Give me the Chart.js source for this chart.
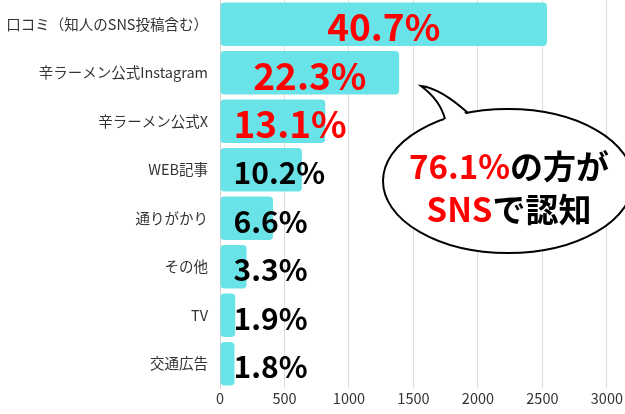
<!DOCTYPE html>
<html>
<head>
<meta charset="utf-8">
<script src="https://cdn.jsdelivr.net/npm/chart.js@4/dist/chart.umd.min.js"></script>
<style>
  html, body { margin: 0; padding: 0; background: #fff; }
  #wrap { width: 625px; height: 414px; position: relative; }
</style>
</head>
<body>
<div id="wrap"><canvas id="c"></canvas></div>
<script>
// ---- data ----
const categories = ['口コミ（知人のSNS投稿含む）', '辛ラーメン公式Instagram', '辛ラーメン公式X', 'WEB記事', '通りがかり', 'その他', 'TV', '交通広告'];
const counts = [2535, 1389, 816, 635, 411, 206, 118, 112];
const percentLabels = ['40.7%', '22.3%', '13.1%', '10.2%', '6.6%', '3.3%', '1.9%', '1.8%'];
const snsCategoryCount = 3; // first three categories are SNS sources
const xTickMin = 0;
const xTickMax = 3000;
const xTickStep = 500;
const bubbleLine1 = ['76.1%', 'の方が'];
const bubbleLine2 = ['SNS', 'で認知'];

const FONT = "'Noto Sans CJK JP', 'Noto Sans', sans-serif";

const valueLabelPlugin = {
  id: 'valueLabels',
  afterDatasetsDraw(chart) {
    const ctx = chart.ctx;
    const meta = chart.getDatasetMeta(0);
    ctx.save();
    ctx.textBaseline = 'middle';
    ctx.textAlign = 'left';
    meta.data.forEach((el, i) => {
      const isSns = i < snsCategoryCount;
      ctx.font = `bold ${isSns ? 37 : 30}px ${FONT}`;
      ctx.fillStyle = isSns ? '#ff0000' : '#000000';
      const txt = percentLabels[i];
      const w = ctx.measureText(txt).width;
      const start = Math.min(el.base, el.x);
      const mid = (el.base + el.x) / 2;
      const left = Math.max(start + 13, mid - w / 2);
      ctx.fillText(txt, left, el.y + 3);
    });
    ctx.restore();
  }
};

const bubblePlugin = {
  id: 'bubble',
  afterDraw(chart) {
    const ctx = chart.ctx;
    const cx = 508, cy = 181, rx = 125, ry = 72;
    ctx.save();
    ctx.lineWidth = 2;
    ctx.strokeStyle = '#000';
    ctx.fillStyle = '#fff';
    ctx.beginPath();
    ctx.ellipse(cx, cy, rx, ry, 0, 0, Math.PI * 2);
    ctx.fill();
    ctx.stroke();
    const A = [445, 119], T = [421, 86], B = [468, 113];
    ctx.beginPath();
    ctx.moveTo(A[0], A[1] + 3);
    ctx.quadraticCurveTo(440, 100, T[0], T[1]);
    ctx.quadraticCurveTo(440, 88, B[0], B[1] + 3);
    ctx.closePath();
    ctx.fill();
    ctx.beginPath();
    ctx.moveTo(A[0], A[1]);
    ctx.quadraticCurveTo(440, 100, T[0], T[1]);
    ctx.quadraticCurveTo(440, 88, B[0], B[1]);
    ctx.stroke();
    ctx.font = `bold 33px ${FONT}`;
    ctx.textBaseline = 'middle';
    ctx.textAlign = 'left';
    const drawLine = (parts, y) => {
      const widths = parts.map(p => ctx.measureText(p).width);
      const total = widths.reduce((a, b) => a + b, 0);
      let x = 509 - total / 2;
      parts.forEach((p, k) => {
        ctx.fillStyle = k === 0 ? '#ff0000' : '#000000';
        ctx.fillText(p, x, y);
        x += widths[k];
      });
    };
    drawLine(bubbleLine1, 166);
    drawLine(bubbleLine2, 209);
    ctx.restore();
  }
};

new Chart(document.getElementById('c'), {
  type: 'bar',
  data: {
    labels: categories,
    datasets: [{
      data: counts,
      backgroundColor: '#69e3e7',
      borderRadius: 4,
      borderSkipped: false,
      barPercentage: 0.9,
      categoryPercentage: 1.0
    }]
  },
  options: {
    indexAxis: 'y',
    responsive: true,
    maintainAspectRatio: false,
    animation: false,
    layout: { padding: 0 },
    plugins: {
      legend: { display: false },
      tooltip: { enabled: false }
    },
    scales: {
      x: {
        min: xTickMin,
        max: xTickMax,
        ticks: {
          stepSize: xTickStep,
          color: '#333',
          font: { family: FONT, size: 14.5 },
          padding: 2,
          callback: (v) => String(v)
        },
        grid: { color: '#dcdcdc', drawTicks: false, lineWidth: 1 },
        border: { display: false },
        afterFit(s) { s.height = 26; }
      },
      y: {
        ticks: {
          color: '#333',
          font: { family: FONT, size: 14.5 },
          padding: 12
        },
        grid: { display: false, drawTicks: false },
        border: { display: true, color: '#cfcfcf', width: 1 },
        afterFit(s) { s.width = 220; s.paddingTop = 0; s.paddingBottom = 0; }
      }
    }
  },
  plugins: [valueLabelPlugin, bubblePlugin]
});
</script>
</body>
</html>
